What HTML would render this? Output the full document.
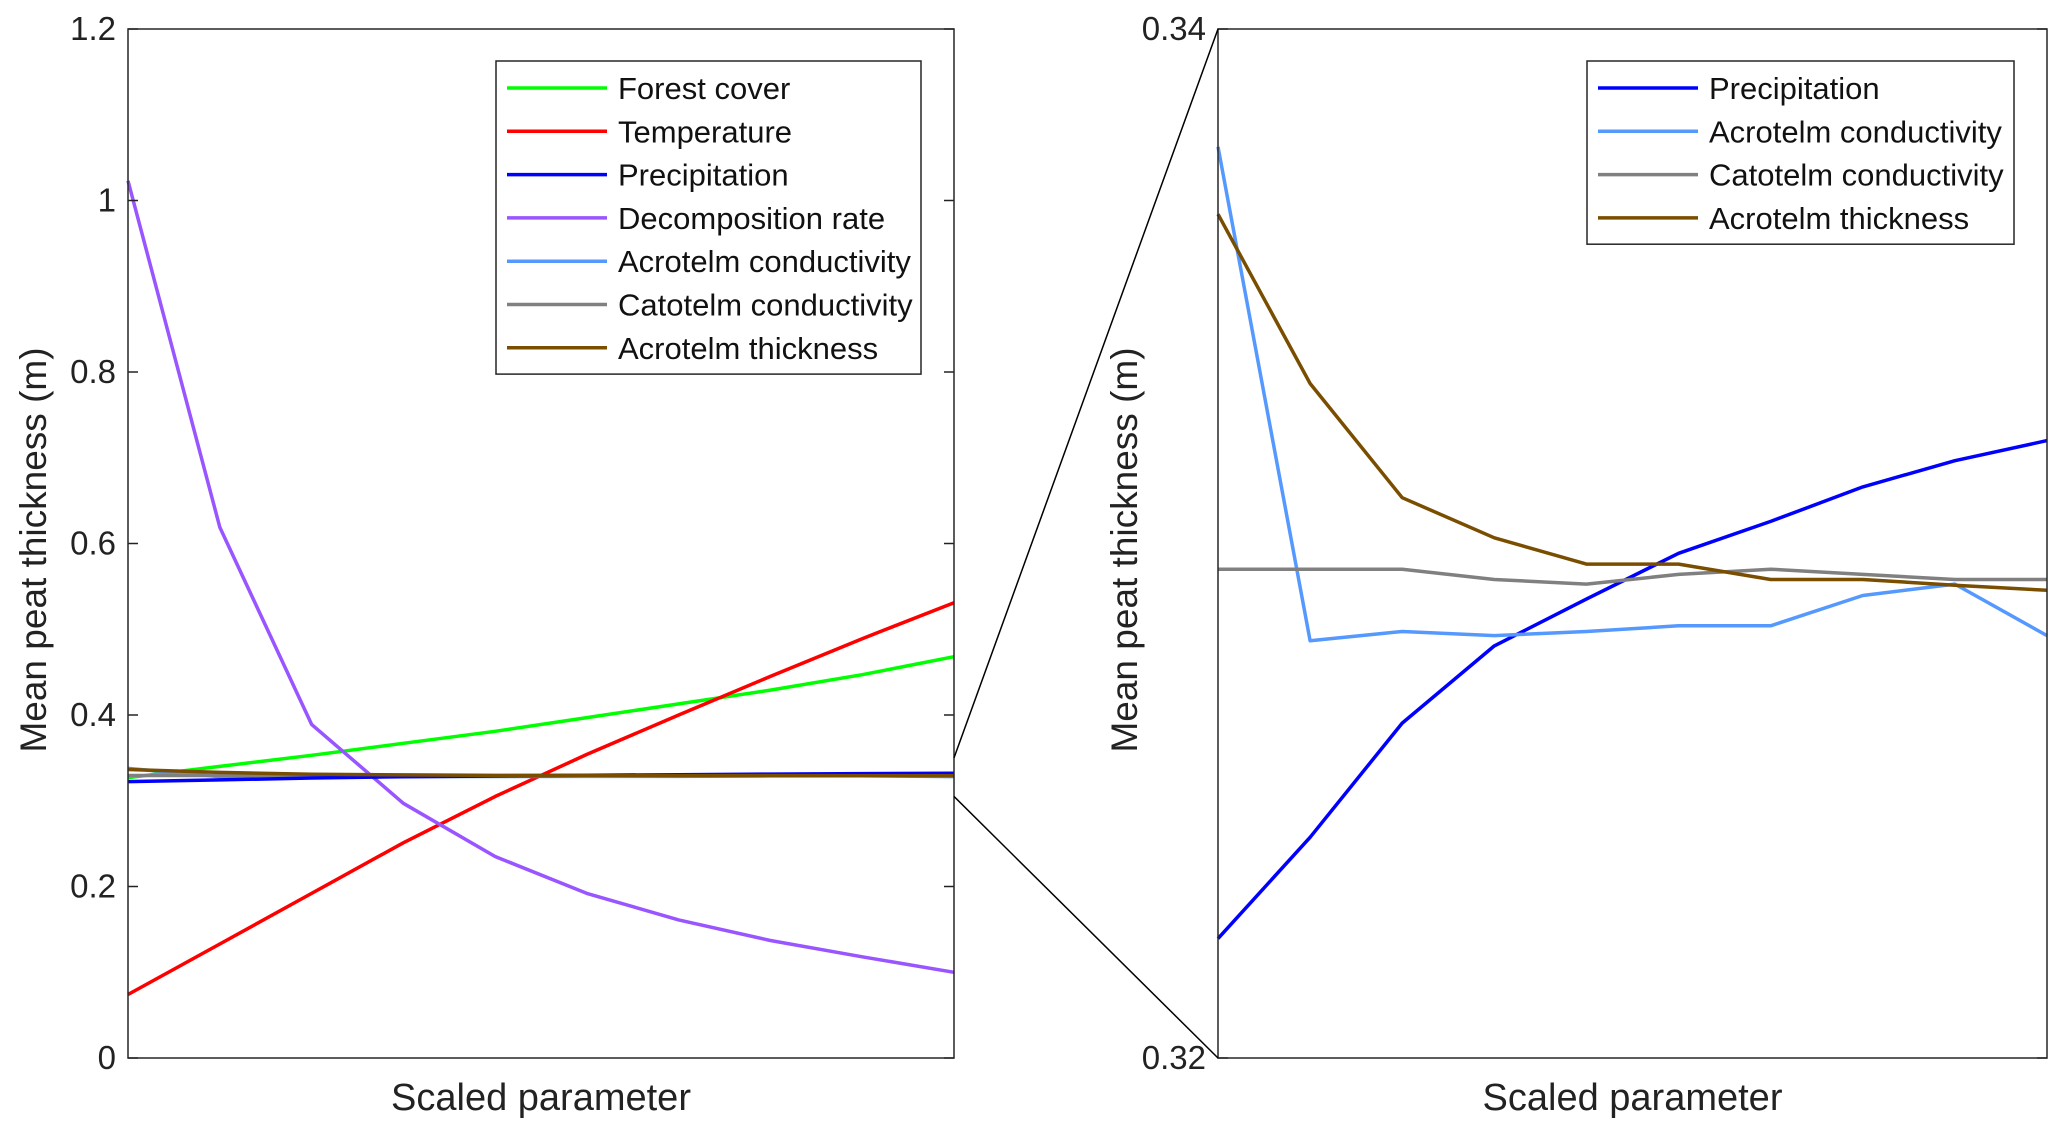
<!DOCTYPE html>
<html><head><meta charset="utf-8"><style>
html,body{margin:0;padding:0;background:#fff;}
svg{display:block;font-family:"Liberation Sans",Arial,sans-serif;}
</style></head><body>
<svg id="fig" width="2067" height="1138" viewBox="0 0 2067 1138" xmlns="http://www.w3.org/2000/svg"></svg>
<script>
const xCount = 10;
const forest = [0.327,0.340,0.353,0.367,0.381,0.397,0.413,0.429,0.447,0.468];
const temperature = [0.074,0.133,0.192,0.251,0.305,0.354,0.400,0.445,0.489,0.531];
const precipitation = [0.32232,0.32429,0.32651,0.32801,0.32892,0.32981,0.33043,0.33110,0.33161,0.33200];
const decomposition = [1.023,0.619,0.389,0.297,0.235,0.192,0.161,0.137,0.118,0.100];
const acroCond = [0.33771,0.32811,0.32829,0.32821,0.32829,0.32840,0.32840,0.32899,0.32921,0.32821];
const catoCond = [0.32950,0.32950,0.32950,0.32930,0.32921,0.32940,0.32950,0.32940,0.32930,0.32930];
const acroThick = [0.33640,0.33311,0.33089,0.33011,0.32960,0.32960,0.32930,0.32930,0.32919,0.32909];
const leftTicks = [0,0.2,0.4,0.6,0.8,1,1.2];
const leftTickLabels = ["0","0.2","0.4","0.6","0.8","1","1.2"];
const rightTicks = [0.32,0.34];
const rightTickLabels = ["0.32","0.34"];
const zoomRange = [0.305,0.35];

const NS="http://www.w3.org/2000/svg";
const svg=document.getElementById('fig');
function mk(tag,attrs,parent){const e=document.createElementNS(NS,tag);for(const k in attrs)e.setAttribute(k,attrs[k]);(parent||svg).appendChild(e);return e;}

const yTop=29,yBot=1058;
const L={x0:128,x1:954,y0:0,y1:1.2};
const R={x0:1218,x1:2047,y0:0.32,y1:0.34};
function sx(ax,i){return ax.x0+(ax.x1-ax.x0)*i/(xCount-1);}
function sy(ax,v){return yBot-(v-ax.y0)/(ax.y1-ax.y0)*(yBot-yTop);}

const colors={forest:"#00ff00",temp:"#ff0000",precip:"#0000ff",decomp:"#9955ff",acroC:"#5599ff",cato:"#808080",acroT:"#7a4e00"};

function series(ax,data,col,name){
  const pts=data.map((v,i)=>sx(ax,i).toFixed(1)+","+sy(ax,v).toFixed(1)).join(" ");
  const p=mk('polyline',{points:pts,fill:"none",stroke:col,"stroke-width":3.5,"stroke-linejoin":"round"});
  
  
}

function axes(ax,ticks,labels,prefix){
  const g=mk('g',{});
  
  
  ticks.forEach((t,i)=>{
    const y=sy(ax,t);
    mk('line',{x1:ax.x0,x2:ax.x0+10,y1:y,y2:y,stroke:"#222","stroke-width":1.5},g);
    mk('line',{x1:ax.x1,x2:ax.x1-10,y1:y,y2:y,stroke:"#222","stroke-width":1.5},g);
    const tx=mk('text',{x:ax.x0-12,y:y+11,"text-anchor":"end","font-size":33,fill:"#222"},g);
    tx.textContent=labels[i];
    
    
  });
  mk('rect',{x:ax.x0,y:yTop,width:ax.x1-ax.x0,height:yBot-yTop,fill:"none",stroke:"#262626","stroke-width":1.5},g);
  const xl=mk('text',{x:(ax.x0+ax.x1)/2,y:1110,"text-anchor":"middle","font-size":38,fill:"#222"},g);
  xl.textContent="Scaled parameter";
  
  
}

function legend(x,y,w,entries,prefix){
  const g=mk('g',{});
  
  
  mk('rect',{x:x,y:y,width:w,height:entries.length*43.3+10,fill:"#fff",stroke:"#262626","stroke-width":1.5},g);
  entries.forEach((e,i)=>{
    const yy=y+27+i*43.3;
    const ge=mk('g',{},g);
    
    
    mk('line',{x1:x+11,x2:x+111,y1:yy,y2:yy,stroke:e[1],"stroke-width":3.5},ge);
    const t=mk('text',{x:x+122,y:yy+11,"font-size":31,fill:"#111"},ge);
    t.textContent=e[0];
  });
}

// left
series(L,forest,colors.forest,'forest-cover-line');
series(L,temperature,colors.temp,'temperature-line');
series(L,decomposition,colors.decomp,'decomposition-line');
series(L,acroCond,colors.acroC,'acrotelm-conductivity-line');
series(L,catoCond,colors.cato,'catotelm-conductivity-line');
series(L,precipitation,colors.precip,'precipitation-line');
series(L,acroThick,colors.acroT,'acrotelm-thickness-line');
axes(L,leftTicks,leftTickLabels,'left');
legend(496,61,425,[["Forest cover",colors.forest],["Temperature",colors.temp],["Precipitation",colors.precip],["Decomposition rate",colors.decomp],["Acrotelm conductivity",colors.acroC],["Catotelm conductivity",colors.cato],["Acrotelm thickness",colors.acroT]],'left');

// right
series(R,precipitation,colors.precip,'zoom-precipitation-line');
series(R,acroCond,colors.acroC,'zoom-acrotelm-conductivity-line');
series(R,catoCond,colors.cato,'zoom-catotelm-conductivity-line');
series(R,acroThick,colors.acroT,'zoom-acrotelm-thickness-line');
axes(R,rightTicks,rightTickLabels,'right');
legend(1587,61,427,[["Precipitation",colors.precip],["Acrotelm conductivity",colors.acroC],["Catotelm conductivity",colors.cato],["Acrotelm thickness",colors.acroT]],'right');

// zoom connector lines
const z1=mk('line',{x1:L.x1,y1:sy(L,zoomRange[1]),x2:R.x0,y2:yTop,stroke:"#000","stroke-width":1.5});


const z2=mk('line',{x1:L.x1,y1:sy(L,zoomRange[0]),x2:R.x0,y2:yBot,stroke:"#000","stroke-width":1.5});



// y titles
[[33,'left-y-axis-title'],[1124,'right-y-axis-title']].forEach(a=>{
  const t=mk('text',{x:0,y:0,"text-anchor":"middle","font-size":37,fill:"#222",transform:`translate(${a[0]+13},550) rotate(-90)`});
  t.textContent="Mean peat thickness (m)";
  
  
});
</script>
</body></html>
